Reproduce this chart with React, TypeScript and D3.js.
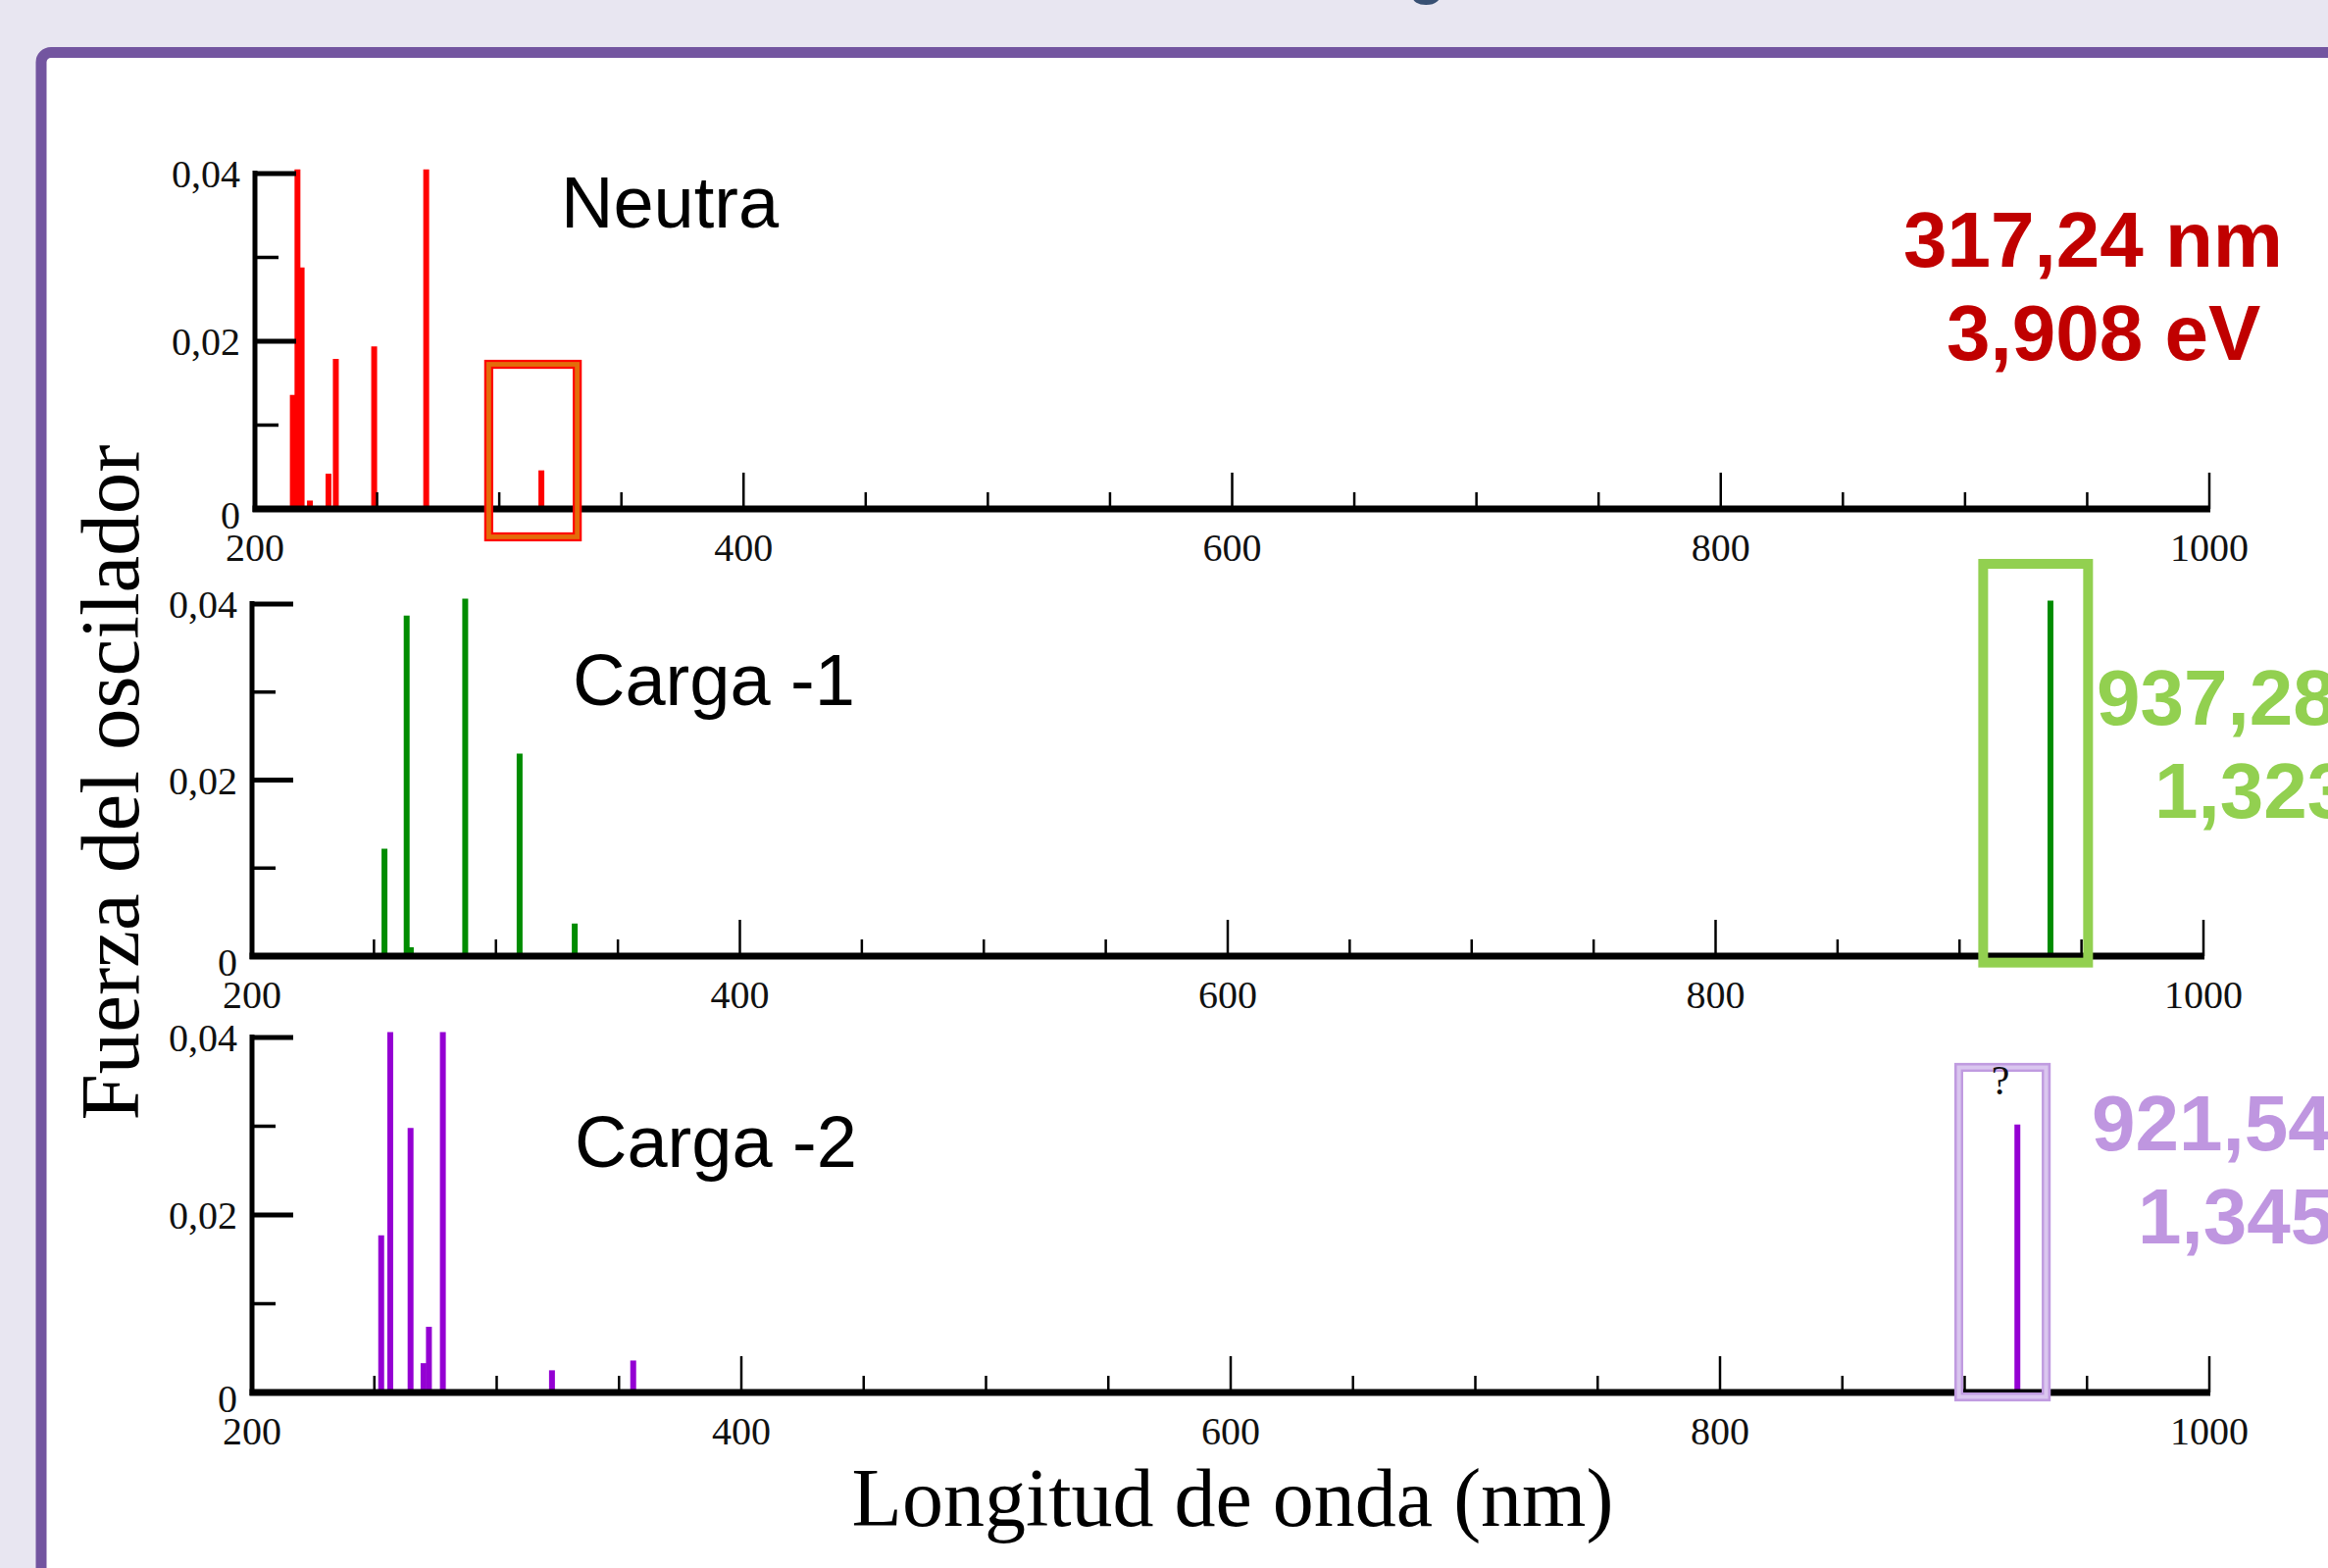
import React from "react";
import * as d3 from "d3";

// ---------- data ----------
const neutraWavelengths = [215.5, 217.4, 219.1, 222.5, 230.1, 233.1, 248.8, 270.1, 317.24];
const neutraStrengths = [0.0136, 0.0405, 0.0288, 0.001, 0.0042, 0.0179, 0.0194, 0.0405, 0.0046];

const carga1Wavelengths = [254.3, 263.4, 265.1, 287.4, 309.7, 332.3, 937.28];
const carga1Strengths = [0.0122, 0.0387, 0.001, 0.0406, 0.023, 0.0037, 0.0404];

const carga2Wavelengths = [252.8, 256.5, 264.8, 270.1, 272.3, 278.0, 322.6, 355.8, 921.54];
const carga2Strengths = [0.0177, 0.0406, 0.0298, 0.0033, 0.0074, 0.0406, 0.0025, 0.0036, 0.0302];

const panelNames = ["Neutra", "Carga -1", "Carga -2"];
const highlightNm = ["317,24 nm", "937,28 nm", "921,54 nm"];
const highlightEv = ["3,908 eV", "1,323 eV", "1,345 eV"];
// highlight boxes in data units: [nmStart, nmEnd, fTop, fBottom]
const highlightBoxes = [
  [295.7, 331.9, 0.01725, -0.00333],
  [909.7, 952.7, 0.04457, -0.00074],
  [897.6, 933.3, 0.03663, -0.0005],
];

const xMajorTicks = [200, 400, 600, 800, 1000];
const xMinorTicks = [250, 300, 350, 450, 500, 550, 650, 700, 750, 850, 900, 950];
const yMajorTicks = [0, 0.02, 0.04];
const yMinorTicks = [0.01, 0.03];

const xDomain = [200, 1000];
const yDomain = [0, 0.04];

// ---------- layout / style ----------
const W = 2374;
const H = 1599;
const panelLayout = [
  { left: 260, right: 2253, bottom: 519, top: 177, bar: "#ff0000" },
  { left: 257, right: 2247, bottom: 975, top: 616, bar: "#008c00" },
  { left: 257, right: 2253, bottom: 1420, top: 1058, bar: "#9400d3" },
];
const labelPos = [
  { x: 572, y: 232 },
  { x: 584, y: 719 },
  { x: 586, y: 1190 },
];
const annotPos = [
  { x1: 1941, y1: 272, x2: 1985, y2: 367, color: "#c00000" },
  { x1: 2138, y1: 739, x2: 2197, y2: 834, color: "#92d050" },
  { x1: 2133, y1: 1173, x2: 2180, y2: 1268, color: "#bf96e0" },
];

const locale = d3.formatLocale({ decimal: ",", thousands: ".", grouping: [3], currency: ["", "€"] });
const fmtY = locale.format(".2~f");

const SERIF = "'Liberation Serif', 'Times New Roman', serif";
const SANS = "'Liberation Sans', Arial, Helvetica, sans-serif";

const seriesNm = [neutraWavelengths, carga1Wavelengths, carga2Wavelengths];
const seriesF = [neutraStrengths, carga1Strengths, carga2Strengths];

function Panel({ idx }: { idx: number }) {
  const L = panelLayout[idx];
  const x = d3.scaleLinear().domain(xDomain).range([L.left, L.right]);
  const y = d3.scaleLinear().domain(yDomain).range([L.bottom, L.top]);
  const nm = seriesNm[idx];
  const f = seriesF[idx];
  const box = highlightBoxes[idx];
  const a = annotPos[idx];

  const bx0 = x(box[0]);
  const bx1 = x(box[1]);
  const by0 = y(box[2]);
  const by1 = y(box[3]);

  return (
    <g>
      {/* bars */}
      {nm.map((w, i) => (
        <line
          key={"b" + i}
          x1={x(w)}
          x2={x(w)}
          y1={y(0)}
          y2={y(f[i])}
          stroke={L.bar}
          strokeWidth={6}
        />
      ))}
      {/* x axis */}
      <line x1={L.left - 2.5} x2={L.right + 1} y1={y(0)} y2={y(0)} stroke="#000" strokeWidth={7} />
      {xMajorTicks.map((t) => (
        <line key={"xM" + t} x1={x(t)} x2={x(t)} y1={y(0)} y2={y(0) - 37} stroke="#000" strokeWidth={2.5} />
      ))}
      {xMinorTicks.map((t) => (
        <line key={"xm" + t} x1={x(t)} x2={x(t)} y1={y(0)} y2={y(0) - 17} stroke="#000" strokeWidth={2.5} />
      ))}
      {xMajorTicks.map((t) => (
        <text
          key={"xl" + t}
          x={x(t)}
          y={y(0) + 53}
          textAnchor="middle"
          fontFamily={SERIF}
          fontSize={40}
          fill="#111"
        >
          {String(t)}
        </text>
      ))}
      {/* y axis */}
      <line x1={L.left} x2={L.left} y1={y(0.04) - 3} y2={y(0) + 3} stroke="#000" strokeWidth={5} />
      {yMajorTicks.map((t) => (
        <line key={"yM" + t} x1={L.left} x2={L.left + 42} y1={y(t)} y2={y(t)} stroke="#000" strokeWidth={5} />
      ))}
      {yMinorTicks.map((t) => (
        <line key={"ym" + t} x1={L.left} x2={L.left + 24} y1={y(t)} y2={y(t)} stroke="#000" strokeWidth={3.5} />
      ))}
      {yMajorTicks.map((t) => (
        <text
          key={"yl" + t}
          x={L.left - 15}
          y={y(t) + (t === 0 ? 20 : 14)}
          textAnchor="end"
          fontFamily={SERIF}
          fontSize={40}
          fill="#111"
        >
          {fmtY(t)}
        </text>
      ))}
      {/* panel label */}
      <text x={labelPos[idx].x} y={labelPos[idx].y} fontFamily={SANS} fontSize={74} fill="#000">
        {panelNames[idx]}
      </text>
      {/* highlight box */}
      {idx === 0 && (
        <g fill="none">
          <rect x={bx0} y={by0} width={bx1 - bx0} height={by1 - by0} stroke="#e36c0a" strokeWidth={9} />
          <rect x={bx0 - 3.5} y={by0 - 3.5} width={bx1 - bx0 + 7} height={by1 - by0 + 7} stroke="#ff0000" strokeWidth={2.2} />
          <rect x={bx0 + 3.5} y={by0 + 3.5} width={bx1 - bx0 - 7} height={by1 - by0 - 7} stroke="#ff0000" strokeWidth={2.2} />
        </g>
      )}
      {idx === 1 && (
        <rect x={bx0} y={by0} width={bx1 - bx0} height={by1 - by0} fill="none" stroke="#92d050" strokeWidth={10} />
      )}
      {idx === 2 && (
        <g fill="none">
          <rect x={bx0} y={by0} width={bx1 - bx0} height={by1 - by0} stroke="#dac6ef" strokeWidth={9} />
          <rect x={bx0 - 3.3} y={by0 - 3.3} width={bx1 - bx0 + 6.6} height={by1 - by0 + 6.6} stroke="#c09be0" strokeWidth={2.6} />
          <rect x={bx0 + 3.3} y={by0 + 3.3} width={bx1 - bx0 - 6.6} height={by1 - by0 - 6.6} stroke="#c09be0" strokeWidth={2.4} />
        </g>
      )}
      {/* annotation */}
      <text x={a.x1} y={a.y1} fontFamily={SANS} fontWeight="bold" fontSize={80} fill={a.color}>
        {highlightNm[idx]}
      </text>
      <text x={a.x2} y={a.y2} fontFamily={SANS} fontWeight="bold" fontSize={80} fill={a.color}>
        {highlightEv[idx]}
      </text>
    </g>
  );
}

export default function App() {
  return (
    <div style={{ position: "fixed", left: 0, top: 0, width: W, height: H, overflow: "hidden" }}>
      <svg width={W} height={H} viewBox={`0 0 ${W} ${H}`} style={{ display: "block" }}>
        <rect x={0} y={0} width={W} height={H} fill="#e8e6f1" />
        {/* clipped title fragment */}
        <text x={1455} y={-8} textAnchor="middle" fontFamily={SANS} fontWeight="bold" fontSize={62} fill="#385073">
          g
        </text>
        {/* slide frame */}
        <rect x={42} y={53.5} width={W + 100} height={H + 100} rx={10} fill="#ffffff" stroke="#7355a0" strokeWidth={11} />
        {[0, 1, 2].map((i) => (
          <Panel key={i} idx={i} />
        ))}
        {/* stray glyph above Carga -2 peak */}
        <text x={2040} y={1116} textAnchor="middle" fontFamily={SERIF} fontSize={42} fill="#111">
          ?
        </text>
        {/* axis titles */}
        <text
          transform="translate(141,798) rotate(-90)"
          textAnchor="middle"
          fontFamily={SERIF}
          fontSize={85}
          fill="#000"
        >
          Fuerza del oscilador
        </text>
        <text x={1257} y={1556} textAnchor="middle" fontFamily={SERIF} fontSize={84} fill="#000">
          Longitud de onda (nm)
        </text>
      </svg>
    </div>
  );
}
